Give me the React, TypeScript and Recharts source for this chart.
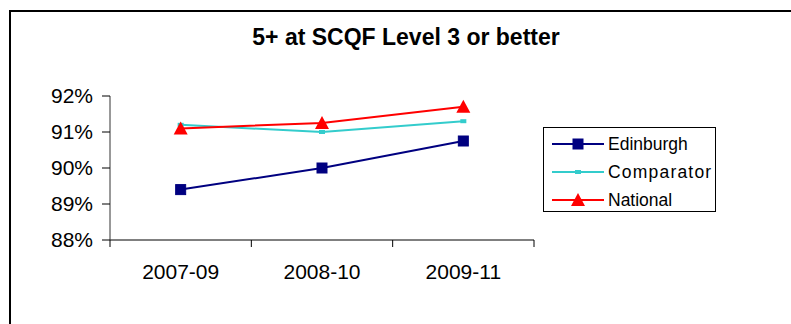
import React from "react"
import { LineChart, Line, XAxis, YAxis, Legend } from "recharts"

const periods = ["2007-09", "2008-10", "2009-11"]
const edinburgh = [89.4, 90.0, 90.75]
const comparator = [91.2, 91.0, 91.3]
const national = [91.1, 91.25, 91.7]
const percentTicks = [88, 89, 90, 91, 92]
const seriesOrder = ["edinburgh", "comparator", "national"]

// category boundaries sit on whole numbers, labels on the half steps
const data = periods.map((period, i) => ({
  period,
  pos: i + 0.5,
  edinburgh: edinburgh[i],
  comparator: comparator[i],
  national: national[i],
}))
const xTicks = [0, 0.5, 1, 1.5, 2, 2.5, 3]

const W = 791
const H = 324
const PLOT_LEFT = 110
const PLOT_TOP = 96
const PLOT_RIGHT = 534
const PLOT_BOTTOM = 240
const FONT = '"Liberation Sans", Arial, sans-serif'

const XTick = (props: any) => {
  const { x, payload } = props
  const v = payload.value as number
  if (Number.isInteger(v)) {
    return <line x1={x} x2={x} y1={PLOT_BOTTOM} y2={PLOT_BOTTOM + 7} stroke="#000" strokeWidth={1} />
  }
  return (
    <text x={x} y={PLOT_BOTTOM + 31} textAnchor="middle" dominantBaseline="central" fontSize={21} fill="#000" fontFamily={FONT}>
      {periods[Math.floor(v)]}
    </text>
  )
}

const SquareDot = (props: any) => {
  const { cx, cy } = props
  if (cx == null || cy == null) return null
  return <rect x={cx - 5} y={cy - 5} width={10} height={10} fill="#000080" stroke="#000080" />
}

const SmallDot = (props: any) => {
  const { cx, cy } = props
  if (cx == null || cy == null) return null
  return <rect x={cx - 3} y={cy - 2} width={6} height={4} fill="#33CCCC" />
}

const TriangleDot = (props: any) => {
  const { cx, cy } = props
  if (cx == null || cy == null) return null
  return <path d={`M${cx},${cy - 7} L${cx + 7},${cy + 6} L${cx - 7},${cy + 6} Z`} fill="#FF0000" />
}

const markerFor = (key: string, cx: number, cy: number) => {
  if (key === "edinburgh") return <SquareDot cx={cx} cy={cy} />
  if (key === "comparator") return <SmallDot cx={cx} cy={cy} />
  return <TriangleDot cx={cx} cy={cy} />
}

const LegendBox = (props: any) => {
  const items = [...(props.payload || [])].sort(
    (a: any, b: any) => seriesOrder.indexOf(a.dataKey) - seriesOrder.indexOf(b.dataKey)
  )
  return (
    <div
      style={{
        border: "1px solid #000",
        width: 171,
        height: 83,
        boxSizing: "content-box",
        background: "#fff",
        fontFamily: FONT,
        fontSize: 17.5,
        color: "#000",
        position: "relative",
      }}
    >
      {items.map((item: any, i: number) => (
        <div key={item.value} style={{ position: "absolute", left: 8, top: 3 + i * 28, height: 26, display: "flex", alignItems: "center" }}>
          <svg width={52} height={26}>
            <line x1={0} x2={52} y1={13} y2={13} stroke={item.color} strokeWidth={2} />
            {markerFor(item.dataKey, 26, 13)}
          </svg>
          <span style={{ marginLeft: 4, letterSpacing: item.dataKey === "comparator" ? 1.2 : 0 }}>{item.value}</span>
        </div>
      ))}
    </div>
  )
}

export default function App() {
  return (
    <div style={{ position: "absolute", left: 0, top: 0, width: W, height: H, background: "#fff", overflow: "hidden", fontFamily: FONT }}>
      {/* chart frame, only its top-left corner is in view */}
      <div style={{ position: "absolute", left: 9, top: 10, width: W + 20, height: H + 20, borderLeft: "2px solid #000", borderTop: "2px solid #000" }} />
      <div style={{ position: "absolute", left: 0, width: 812, top: 24, textAlign: "center", fontWeight: "bold", fontSize: 23, color: "#000" }}>
        5+ at SCQF Level 3 or better
      </div>
      <div style={{ position: "absolute", left: 0, top: 0 }}>
        <LineChart
          width={W}
          height={H}
          data={data}
          margin={{ top: PLOT_TOP, right: W - PLOT_RIGHT, bottom: 0, left: 0 }}
        >
          <XAxis
            dataKey="pos"
            type="number"
            domain={[0, 3]}
            ticks={xTicks}
            interval={0}
            height={H - PLOT_BOTTOM}
            axisLine={{ stroke: "#000", strokeWidth: 1 }}
            tickLine={false}
            tick={<XTick />}
          />
          <YAxis
            domain={[88, 92]}
            ticks={percentTicks}
            interval={0}
            width={PLOT_LEFT}
            tickFormatter={(v: number) => `${v}%`}
            axisLine={{ stroke: "#333", strokeWidth: 1 }}
            tickLine={{ stroke: "#000" }}
            tickSize={8}
            tickMargin={9}
            tick={{ fontSize: 21, fill: "#000", fontFamily: FONT }}
          />
          <Legend
            layout="vertical"
            align="center"
            verticalAlign="middle"
            wrapperStyle={{ left: 543, top: 127, width: 173, height: 85 }}
            content={<LegendBox />}
          />
          <Line dataKey="edinburgh" name="Edinburgh" stroke="#000080" strokeWidth={2} dot={<SquareDot />} isAnimationActive={false} />
          <Line dataKey="comparator" name="Comparator" stroke="#33CCCC" strokeWidth={2} dot={<SmallDot />} isAnimationActive={false} />
          <Line dataKey="national" name="National" stroke="#FF0000" strokeWidth={2} dot={<TriangleDot />} isAnimationActive={false} />
        </LineChart>
      </div>
    </div>
  )
}
